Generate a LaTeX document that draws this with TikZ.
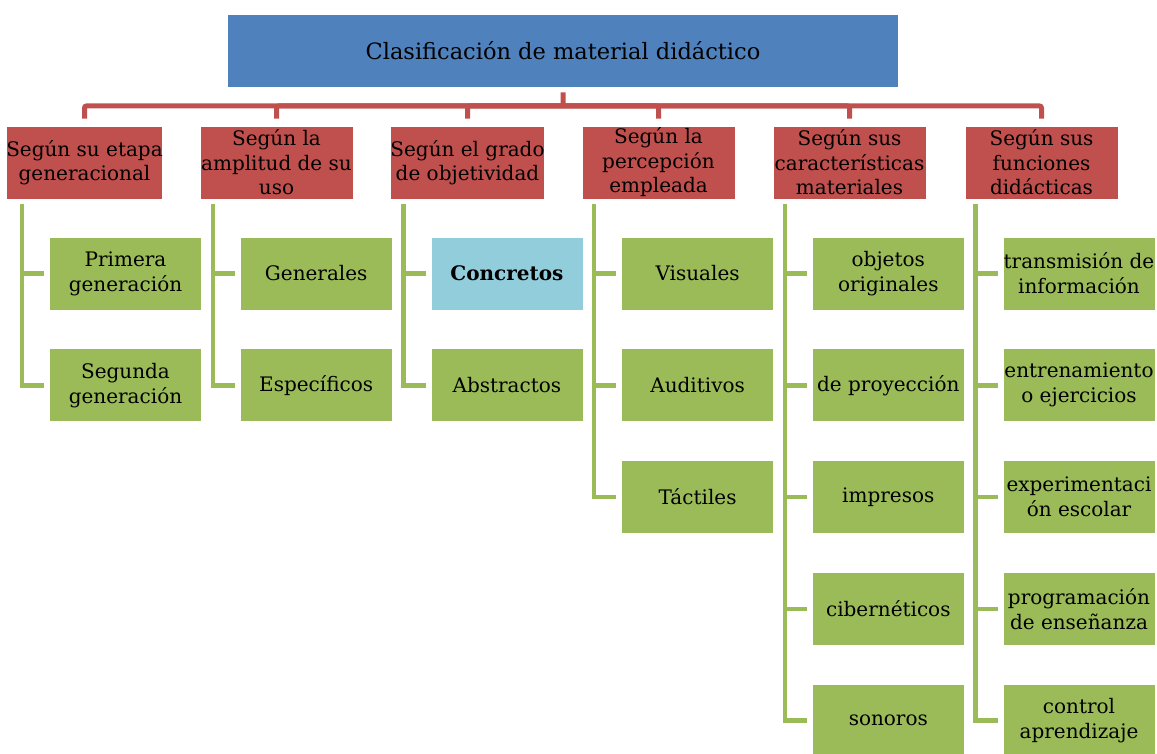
\documentclass[tikz,border=0pt]{standalone}
\usepackage{fontspec}
\setmainfont{DejaVu Serif}
\definecolor{bb}{RGB}{79,129,189}
\definecolor{rr}{RGB}{192,80,77}
\definecolor{gg}{RGB}{155,187,89}
\definecolor{cc}{RGB}{146,205,220}
\tikzset{
  hd/.style={rectangle, fill=rr, draw=white, line width=0.75pt, minimum width=153pt, minimum height=73pt, inner sep=0pt, align=center, font=\fontsize{20}{24.5}\selectfont},
  it/.style={rectangle, fill=gg, draw=white, line width=0.75pt, minimum width=152pt, minimum height=73pt, inner sep=0pt, align=center, font=\fontsize{20}{25}\selectfont},
  rl/.style={line width=5pt, color=rr, rounded corners=2pt},
  gl/.style={line width=4.5pt, color=gg},
}
\begin{document}
\begin{tikzpicture}
\useasboundingbox (0pt, 0pt) rectangle (1157pt, -754pt);
\node (t) [rectangle, fill=bb, draw=white, line width=0.75pt, minimum width=671pt, minimum height=73pt, font=\fontsize{22.5}{26}\selectfont] at (563pt, -50.5pt) {Clasificación de material didáctico};
\node (1) [hd] at (84.5pt, -162.5pt) {Según su etapa\\generacional};
\node (2) [hd] at (276.5pt, -162.5pt) {Según la\\amplitud de su\\uso};
\node (3) [hd] at (467.5pt, -162.5pt) {Según el grado\\de objetividad};
\node (4) [hd] at (658.5pt, -162.5pt) {Según la\\percepción\\empleada};
\node (5) [hd] at (849.5pt, -162.5pt) {Según sus\\características\\materiales};
\node (6) [hd] at (1041.5pt, -162.5pt) {Según sus\\funciones\\didácticas};
\node (11) [it] at (125.5pt, -273.5pt) {Primera\\generación};
\node (12) [it] at (125.5pt, -385.25pt) {Segunda\\generación};
\node (21) [it] at (316.2pt, -273.5pt) {Generales};
\node (22) [it] at (316.2pt, -385.25pt) {Específicos};
\node (31) [it, fill=cc, font=\fontsize{20}{25}\selectfont\bfseries] at (506.9pt, -273.5pt) {Concretos};
\node (32) [it] at (506.9pt, -385.25pt) {Abstractos};
\node (41) [it] at (697.6pt, -273.5pt) {Visuales};
\node (42) [it] at (697.6pt, -385.25pt) {Auditivos};
\node (43) [it] at (697.6pt, -497pt) {Táctiles};
\node (51) [it] at (888.3pt, -273.5pt) {objetos\\originales};
\node (52) [it] at (888.3pt, -385.25pt) {de proyección};
\node (53) [it] at (888.3pt, -497pt) {impresos};
\node (54) [it] at (888.3pt, -608.75pt) {cibernéticos};
\node (55) [it] at (888.3pt, -720.5pt) {sonoros};
\node (61) [it] at (1079pt, -273.5pt) {transmisión de\\información};
\node (62) [it] at (1079pt, -385.25pt) {entrenamiento\\o ejercicios};
\node (63) [it] at (1079pt, -497pt) {experimentaci\\ón escolar};
\node (64) [it] at (1079pt, -608.75pt) {programación\\de enseñanza};
\node (65) [it] at (1079pt, -720.5pt) {control\\aprendizaje};
\coordinate (b) at (563pt, -106pt);
\draw [rl] ([yshift=-5pt]t.south) -- (b) -| ([yshift=7pt]1.north);
\draw [rl] (b) -| ([yshift=7pt]2.north);
\draw [rl] (b) -| ([yshift=7pt]3.north);
\draw [rl] (b) -| ([yshift=7pt]4.north);
\draw [rl] (b) -| ([yshift=7pt]5.north);
\draw [rl] (b) -| ([yshift=7pt]6.north);
\draw [gl] ([xshift=-27pt, yshift=-5pt]11.west |- 1.south) |- ([xshift=-5pt]11.west);
\draw [gl] ([xshift=-27pt, yshift=-5pt]12.west |- 1.south) |- ([xshift=-5pt]12.west);
\draw [gl] ([xshift=-27pt, yshift=-5pt]21.west |- 2.south) |- ([xshift=-5pt]21.west);
\draw [gl] ([xshift=-27pt, yshift=-5pt]22.west |- 2.south) |- ([xshift=-5pt]22.west);
\draw [gl] ([xshift=-27pt, yshift=-5pt]31.west |- 3.south) |- ([xshift=-5pt]31.west);
\draw [gl] ([xshift=-27pt, yshift=-5pt]32.west |- 3.south) |- ([xshift=-5pt]32.west);
\draw [gl] ([xshift=-27pt, yshift=-5pt]41.west |- 4.south) |- ([xshift=-5pt]41.west);
\draw [gl] ([xshift=-27pt, yshift=-5pt]42.west |- 4.south) |- ([xshift=-5pt]42.west);
\draw [gl] ([xshift=-27pt, yshift=-5pt]43.west |- 4.south) |- ([xshift=-5pt]43.west);
\draw [gl] ([xshift=-27pt, yshift=-5pt]51.west |- 5.south) |- ([xshift=-5pt]51.west);
\draw [gl] ([xshift=-27pt, yshift=-5pt]52.west |- 5.south) |- ([xshift=-5pt]52.west);
\draw [gl] ([xshift=-27pt, yshift=-5pt]53.west |- 5.south) |- ([xshift=-5pt]53.west);
\draw [gl] ([xshift=-27pt, yshift=-5pt]54.west |- 5.south) |- ([xshift=-5pt]54.west);
\draw [gl] ([xshift=-27pt, yshift=-5pt]55.west |- 5.south) |- ([xshift=-5pt]55.west);
\draw [gl] ([xshift=-27pt, yshift=-5pt]61.west |- 6.south) |- ([xshift=-5pt]61.west);
\draw [gl] ([xshift=-27pt, yshift=-5pt]62.west |- 6.south) |- ([xshift=-5pt]62.west);
\draw [gl] ([xshift=-27pt, yshift=-5pt]63.west |- 6.south) |- ([xshift=-5pt]63.west);
\draw [gl] ([xshift=-27pt, yshift=-5pt]64.west |- 6.south) |- ([xshift=-5pt]64.west);
\draw [gl] ([xshift=-27pt, yshift=-5pt]65.west |- 6.south) |- ([xshift=-5pt]65.west);
\end{tikzpicture}
\end{document}
